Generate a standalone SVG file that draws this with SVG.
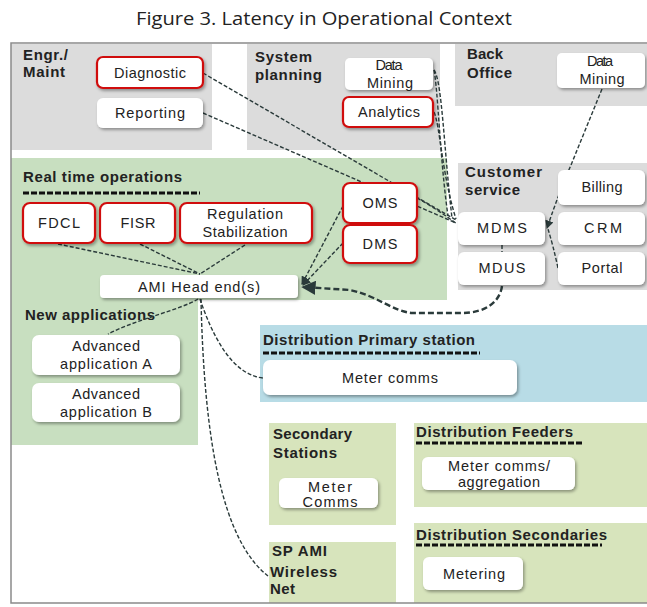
<svg xmlns="http://www.w3.org/2000/svg" width="647" height="607" viewBox="0 0 647 607">
<style>
.gray{fill:#dcdcdc}
.green{fill:#c8dfc0}
.olive{fill:#d7e4bc}
.blue{fill:#b8dce6}
.box{fill:#fff;filter:url(#sh)}
.red{fill:#fff;stroke:#d01010;stroke-width:2.2;filter:url(#sh)}
.t{font-family:'Liberation Sans',Arial,Helvetica,sans-serif;font-size:14.5px;fill:#222;text-anchor:middle}
.h{font-family:'Liberation Sans',Arial,Helvetica,sans-serif;font-size:15px;font-weight:bold;fill:#222}
.ul{stroke:#111;stroke-width:3;stroke-dasharray:6,2;fill:none}
.c{stroke:#2a3a3a;stroke-width:1.4;stroke-dasharray:4,2;fill:none}
.ct{stroke:#2a3a3a;stroke-width:2.4;stroke-dasharray:6,3;fill:none}
</style>
<defs>
<filter id="sh" x="-10%" y="-15%" width="125%" height="145%">
<feDropShadow dx="1.5" dy="2" stdDeviation="1.5" flood-color="#000" flood-opacity="0.35"/>
</filter>
<marker id="ah" viewBox="0 0 8 8" refX="7" refY="4" markerWidth="6" markerHeight="6" orient="auto">
<path d="M0,0 L8,4 L0,8 z" fill="#2a3a3a"/>
</marker>
</defs>
<rect width="647" height="607" fill="#fff"/>
<text x="324" y="25" font-family="'Open Sans','Noto Sans',sans-serif" font-size="18" fill="#222" text-anchor="middle" textLength="376" lengthAdjust="spacingAndGlyphs">Figure 3. Latency in Operational Context</text>

<g id="panels">
<rect class="gray" x="11" y="44" width="201" height="106"/>
<rect class="gray" x="247" y="44" width="193" height="106"/>
<rect class="gray" x="455" y="44" width="192" height="62"/>
<rect class="green" x="11" y="158" width="436" height="142"/>
<rect class="green" x="11" y="300" width="187" height="145"/>
<rect class="gray" x="458" y="163" width="189" height="127"/>
<rect class="blue" x="260" y="325" width="387" height="77"/>
<rect class="olive" x="269" y="423" width="127" height="102"/>
<rect class="olive" x="414" y="423" width="233" height="84"/>
<rect class="olive" x="269" y="542" width="127" height="61"/>
<rect class="olive" x="414" y="523" width="233" height="80"/>
</g>
<rect x="11" y="43" width="640" height="560" fill="none" stroke="#8a8a8a" stroke-width="1.5"/>

<g id="headings">
<text class="h" x="23" y="60" textLength="45" lengthAdjust="spacing">Engr./</text>
<text class="h" x="23" y="77" textLength="42" lengthAdjust="spacing">Maint</text>
<text class="h" x="255" y="62" textLength="57" lengthAdjust="spacing">System</text>
<text class="h" x="255" y="80" textLength="67" lengthAdjust="spacing">planning</text>
<text class="h" x="467" y="59" textLength="36" lengthAdjust="spacing">Back</text>
<text class="h" x="467" y="78" textLength="45" lengthAdjust="spacing">Office</text>
<text class="h" x="465" y="177" textLength="77" lengthAdjust="spacing">Customer</text>
<text class="h" x="465" y="195" textLength="55" lengthAdjust="spacing">service</text>
<text class="h" x="23" y="182" textLength="159" lengthAdjust="spacing">Real time operations</text>
<line class="ul" x1="23" y1="193" x2="200" y2="193"/>
<text class="h" x="25" y="320" textLength="130" lengthAdjust="spacing">New applications</text>
<text class="h" x="263" y="345" textLength="212" lengthAdjust="spacing">Distribution Primary station</text>
<line class="ul" x1="263" y1="353" x2="480" y2="353"/>
<text class="h" x="273" y="439" textLength="79" lengthAdjust="spacing">Secondary</text>
<text class="h" x="273" y="458" textLength="64" lengthAdjust="spacing">Stations</text>
<text class="h" x="416" y="437" textLength="157" lengthAdjust="spacing">Distribution Feeders</text>
<line class="ul" x1="416" y1="443" x2="582" y2="443"/>
<text class="h" x="416" y="540" textLength="191" lengthAdjust="spacing">Distribution Secondaries</text>
<line class="ul" x1="416" y1="545" x2="602" y2="545"/>
<text class="h" x="272" y="556" textLength="55" lengthAdjust="spacing">SP AMI</text>
<text class="h" x="270" y="577" textLength="67" lengthAdjust="spacing">Wireless</text>
<text class="h" x="270" y="594" textLength="25" lengthAdjust="spacing">Net</text>
</g>

<g id="connectors">
<path class="c" d="M203,73 L456,220"/>
<path class="c" d="M203,113 L456,223"/>
<path class="c" d="M434,70 C442,80 444,150 452,218"/>
<path class="c" d="M434,112 C440,125 442,175 456,219"/>
<path class="c" d="M434,70 C438,90 440,160 448,216"/>
<path class="c" d="M417,198 C430,205 445,215 457,224"/>
<path class="c" d="M602,89 L571,165 Q560,190 547,228" marker-end="url(#ah)"/>
<path class="c" d="M558,268 Q553,245 548,229"/>
<path class="c" d="M502,245 L502,252"/>
<path class="ct" d="M502,286 C500,302 485,313 462,313 L412,313 C392,311 378,296 350,290 L303,287" marker-end="url(#ah)"/>
<path class="c" d="M343,206 L302,284" marker-end="url(#ah)"/>
<path class="c" d="M343,243 L303,285" marker-end="url(#ah)"/>
<path class="c" d="M58,244 L200,274"/>
<path class="c" d="M140,244 L200,274"/>
<path class="c" d="M245,245 L200,274"/>
<path class="c" d="M198,299 C180,310 140,318 108,334"/>
<path class="c" d="M200,299 C212,335 232,375 263,378"/>
<path class="c" d="M201,299 C204,440 222,540 268,576"/>
</g>

<g id="diagnostic"><rect class="red" x="97" y="57" width="106" height="31" rx="6"/><text class="t" x="150" y="78" textLength="72" lengthAdjust="spacing">Diagnostic</text></g>
<g id="reporting"><rect class="box" x="97" y="98" width="106" height="30" rx="6"/><text class="t" x="150" y="118" textLength="70" lengthAdjust="spacing">Reporting</text></g>
<g id="sp-data-mining"><rect class="box" x="345" y="58" width="88" height="32" rx="5"/><text class="t" x="389" y="70" textLength="27" lengthAdjust="spacing">Data</text><text class="t" x="390" y="88" textLength="46" lengthAdjust="spacing">Mining</text></g>
<g id="analytics"><rect class="red" x="343" y="97" width="90" height="30" rx="6"/><text class="t" x="389" y="117" textLength="62" lengthAdjust="spacing">Analytics</text></g>
<g id="bo-data-mining"><rect class="box" x="557" y="53" width="88" height="35" rx="5"/><text class="t" x="600" y="66" textLength="26" lengthAdjust="spacing">Data</text><text class="t" x="602" y="84" textLength="45" lengthAdjust="spacing">Mining</text></g>
<g id="billing"><rect class="box" x="558" y="170" width="87" height="35" rx="6"/><text class="t" x="602" y="192" textLength="41" lengthAdjust="spacing">Billing</text></g>
<g id="crm"><rect class="box" x="558" y="212" width="87" height="33" rx="6"/><text class="t" x="603" y="233" textLength="38" lengthAdjust="spacing">CRM</text></g>
<g id="portal"><rect class="box" x="558" y="252" width="87" height="33" rx="6"/><text class="t" x="602" y="273" textLength="41" lengthAdjust="spacing">Portal</text></g>
<g id="mdms"><rect class="box" x="458" y="212" width="87" height="33" rx="6"/><text class="t" x="502" y="233" textLength="50" lengthAdjust="spacing">MDMS</text></g>
<g id="mdus"><rect class="box" x="458" y="252" width="87" height="33" rx="6"/><text class="t" x="502" y="273" textLength="47" lengthAdjust="spacing">MDUS</text></g>
<g id="fdcl"><rect class="red" x="23" y="203" width="72" height="40" rx="7"/><text class="t" x="59" y="228" textLength="42" lengthAdjust="spacing">FDCL</text></g>
<g id="fisr"><rect class="red" x="100" y="203" width="75" height="40" rx="7"/><text class="t" x="138" y="228" textLength="35" lengthAdjust="spacing">FISR</text></g>
<g id="regulation"><rect class="red" x="180" y="203" width="132" height="40" rx="7"/><text class="t" x="245" y="219" textLength="76" lengthAdjust="spacing">Regulation</text><text class="t" x="245" y="237" textLength="85" lengthAdjust="spacing">Stabilization</text></g>
<g id="oms"><rect class="red" x="343" y="183" width="74" height="40" rx="7"/><text class="t" x="380" y="208" textLength="35" lengthAdjust="spacing">OMS</text></g>
<g id="dms"><rect class="red" x="343" y="225" width="74" height="38" rx="7"/><text class="t" x="380" y="249" textLength="35" lengthAdjust="spacing">DMS</text></g>
<g id="ami-head-end"><rect class="box" x="100" y="275" width="198" height="23" rx="4"/><text class="t" x="199" y="292" textLength="122" lengthAdjust="spacing">AMI Head end(s)</text></g>
<g id="adv-a"><rect class="box" x="32" y="335" width="148" height="40" rx="7"/><text class="t" x="106" y="351" textLength="68" lengthAdjust="spacing">Advanced</text><text class="t" x="106" y="369" textLength="92" lengthAdjust="spacing">application A</text></g>
<g id="adv-b"><rect class="box" x="32" y="383" width="148" height="39" rx="7"/><text class="t" x="106" y="399" textLength="68" lengthAdjust="spacing">Advanced</text><text class="t" x="106" y="417" textLength="92" lengthAdjust="spacing">application B</text></g>
<g id="meter-comms-primary"><rect class="box" x="263" y="360" width="254" height="35" rx="7"/><text class="t" x="390" y="383" textLength="96" lengthAdjust="spacing">Meter comms</text></g>
<g id="meter-comms-secondary"><rect class="box" x="279" y="478" width="99" height="30" rx="6"/><text class="t" x="330" y="492" textLength="44" lengthAdjust="spacing">Meter</text><text class="t" x="330" y="507" textLength="55" lengthAdjust="spacing">Comms</text></g>
<g id="meter-comms-aggregation"><rect class="box" x="422" y="457" width="153" height="33" rx="6"/><text class="t" x="499" y="471" textLength="102" lengthAdjust="spacing">Meter comms/</text><text class="t" x="499" y="487" textLength="82" lengthAdjust="spacing">aggregation</text></g>
<g id="metering"><rect class="box" x="423" y="557" width="100" height="33" rx="6"/><text class="t" x="474" y="579" textLength="62" lengthAdjust="spacing">Metering</text></g>
</svg>
